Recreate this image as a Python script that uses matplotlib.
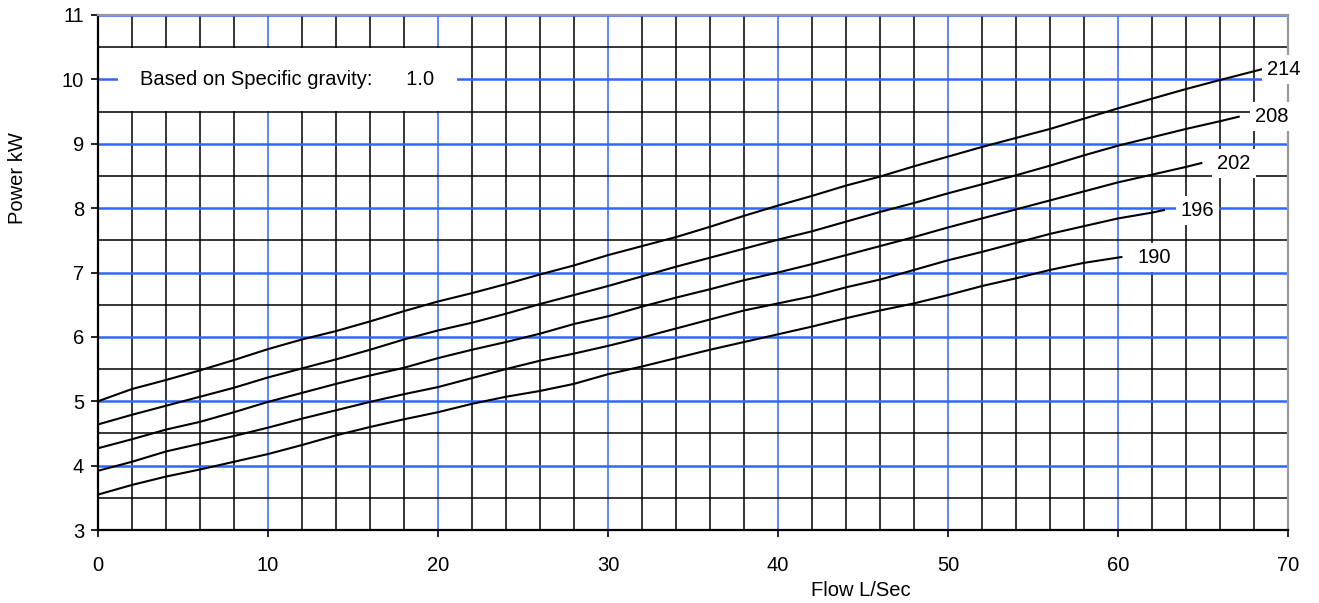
import matplotlib.pyplot as plt
from matplotlib.ticker import MultipleLocator

plt.rcParams['font.family'] = ['Liberation Sans', 'DejaVu Sans']

# flow points (L/Sec)
flow_base = [0, 2, 4, 6, 8, 10, 12, 14, 16, 18, 20, 22, 24, 26, 28, 30,
             32, 34, 36, 38, 40, 42, 44, 46, 48, 50, 52, 54, 56, 58]

# power curves (kW) for each impeller diameter
power_214 = [5.00, 5.19, 5.33, 5.48, 5.64, 5.81, 5.96, 6.09, 6.24, 6.40, 6.55,
             6.68, 6.82, 6.97, 7.11, 7.27, 7.41, 7.55, 7.71, 7.88, 8.04, 8.19,
             8.35, 8.49, 8.65, 8.80, 8.95, 9.09, 9.23, 9.39]
tail_flow_214 = [60, 62, 64, 66, 68.5]
tail_power_214 = [9.55, 9.70, 9.85, 9.99, 10.16]

power_208 = [4.64, 4.79, 4.93, 5.07, 5.21, 5.37, 5.51, 5.65, 5.80, 5.96, 6.10,
             6.22, 6.36, 6.51, 6.65, 6.79, 6.94, 7.09, 7.23, 7.37, 7.51, 7.64,
             7.79, 7.94, 8.08, 8.23, 8.37, 8.51, 8.66, 8.82]
tail_flow_208 = [60, 62, 64, 66, 67.1]
tail_power_208 = [8.97, 9.10, 9.23, 9.35, 9.42]

power_202 = [4.27, 4.41, 4.56, 4.68, 4.83, 4.99, 5.13, 5.27, 5.40, 5.52, 5.67,
             5.80, 5.92, 6.05, 6.20, 6.32, 6.47, 6.61, 6.74, 6.88, 7.00, 7.13,
             7.27, 7.41, 7.55, 7.70, 7.84, 7.98, 8.12, 8.26]
tail_flow_202 = [60, 62, 64, 64.9]
tail_power_202 = [8.40, 8.52, 8.64, 8.70]

power_196 = [3.92, 4.06, 4.22, 4.34, 4.46, 4.59, 4.73, 4.86, 4.99, 5.11, 5.22,
             5.36, 5.50, 5.63, 5.74, 5.86, 5.99, 6.13, 6.27, 6.41, 6.52, 6.63,
             6.77, 6.89, 7.04, 7.19, 7.32, 7.46, 7.60, 7.72]
tail_flow_196 = [60, 62, 62.7]
tail_power_196 = [7.84, 7.93, 7.97]

power_190 = [3.55, 3.70, 3.83, 3.94, 4.06, 4.18, 4.32, 4.47, 4.60, 4.72, 4.83,
             4.96, 5.07, 5.16, 5.27, 5.42, 5.54, 5.67, 5.80, 5.92, 6.04, 6.16,
             6.29, 6.41, 6.52, 6.65, 6.79, 6.91, 7.04, 7.15]
tail_flow_190 = [60.2]
tail_power_190 = [7.24]

curve_labels = ['214', '208', '202', '196', '190']

BLUE = '#3366ff'
FS = 14.5

fig = plt.figure(figsize=(13.19, 6.03), dpi=100)
ax = fig.add_axes([98 / 1319, 1 - 530 / 603, 1190 / 1319, 515 / 603])

curves = [
    (flow_base + tail_flow_214, power_214 + tail_power_214, 3),
    (flow_base + tail_flow_208, power_208 + tail_power_208, 11.5),
    (flow_base + tail_flow_202, power_202 + tail_power_202, 11.5),
    (flow_base + tail_flow_196, power_196 + tail_power_196, 12),
    (flow_base + tail_flow_190, power_190 + tail_power_190, 11.5),
]

for (fx, py, off), lab in zip(curves, curve_labels):
    ax.plot(fx, py, color='black', lw=1.5, zorder=3)
    ax.annotate(lab, xy=(fx[-1], py[-1]), xytext=(off, 0),
                textcoords='offset points', ha='left', va='center',
                fontsize=FS, color='black', zorder=4,
                bbox=dict(boxstyle='square,pad=0.25', fc='white', ec='none'),
                annotation_clip=False)

ax.text(11.15, 10.0, 'Based on Specific gravity:      1.0', ha='center',
        va='center', fontsize=FS, zorder=4,
        bbox=dict(boxstyle='square,pad=1.1', fc='white', ec='none'))

ax.set_xlim(0, 70)
ax.set_ylim(3, 11)
ax.xaxis.set_major_locator(MultipleLocator(10))
ax.xaxis.set_minor_locator(MultipleLocator(2))
ax.yaxis.set_major_locator(MultipleLocator(1))
ax.yaxis.set_minor_locator(MultipleLocator(0.5))

ax.set_axisbelow(True)
ax.grid(which='minor', color='black', lw=1.1)
ax.grid(which='major', axis='x', color=BLUE, lw=1.1)
ax.grid(which='major', axis='y', color=BLUE, lw=1.8)

ax.tick_params(which='minor', length=0)
ax.tick_params(which='major', direction='out', length=5, width=1.2,
               labelsize=FS)
ax.tick_params(axis='x', pad=14)
ax.tick_params(axis='y', pad=5)

for s in ['left', 'bottom']:
    ax.spines[s].set_color('black')
    ax.spines[s].set_linewidth(1.6)
for s in ['top', 'right']:
    ax.spines[s].set_color('#999999')
    ax.spines[s].set_linewidth(1.6)

ax.set_xlabel('Flow L/Sec', fontsize=FS, va='center', ha='center')
ax.xaxis.set_label_coords((861 - 98) / 1190, -60 / 515)
ax.set_ylabel('Power kW', fontsize=FS, va='center', ha='center')
ax.yaxis.set_label_coords(-80 / 1190, (530 - 178) / 515)

fig.savefig('out.png', dpi=100)
